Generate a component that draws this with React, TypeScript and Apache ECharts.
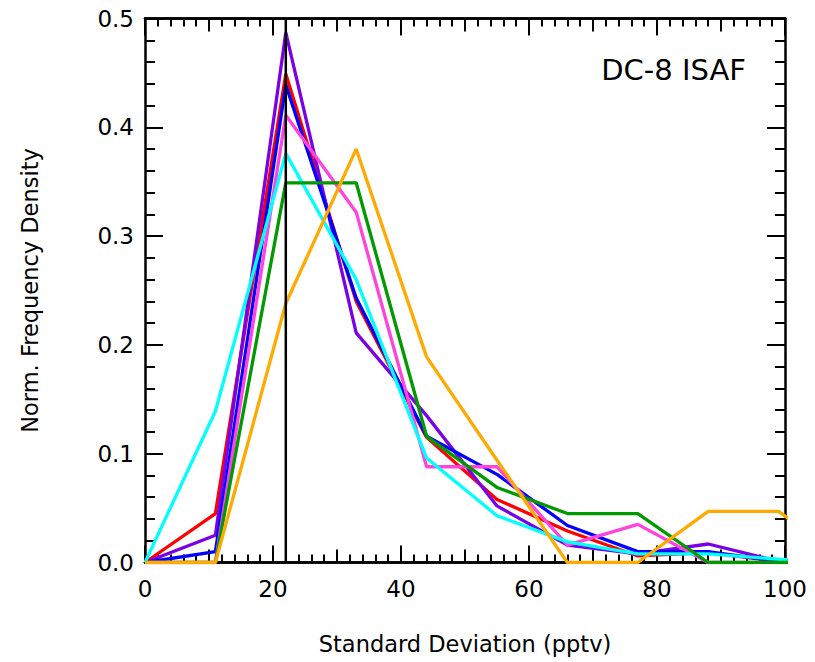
import React, { useEffect, useRef } from "react";
import * as echarts from "echarts";

const xBins = [0, 11, 22, 33, 44, 55, 66, 77, 88, 99, 110];
const redVals = [0, 0.045, 0.449, 0.240, 0.115, 0.058, 0.029, 0.006, 0.009, 0.001, 0];
const purpleVals = [0, 0.025, 0.487, 0.211, 0.135, 0.052, 0.016, 0.008, 0.017, 0.001, 0];
const blueVals = [0, 0.010, 0.439, 0.243, 0.116, 0.081, 0.034, 0.010, 0.010, 0.001, 0];
const pinkVals = [0, 0, 0.411, 0.322, 0.088, 0.088, 0.016, 0.035, 0, 0, 0];
const cyanVals = [0, 0.139, 0.376, 0.260, 0.096, 0.043, 0.019, 0.008, 0.008, 0.003, 0];
const greenVals = [0, 0, 0.349, 0.349, 0.116, 0.069, 0.045, 0.045, 0, 0, 0];
const orangeVals = [0, 0, 0.238, 0.380, 0.189, 0.094, 0, 0, 0.047, 0.047, 0];
const refLineX = 22;
const yTicks = ["0.0", "0.1", "0.2", "0.3", "0.4", "0.5"];

const FONT = "DejaVu Sans";

export default function App() {
  const ref = useRef<HTMLDivElement>(null);
  useEffect(() => {
    document.body.style.margin = "0";
    const chart = echarts.init(ref.current!, null, { renderer: "svg" });
    const pts = (vals: number[]) => xBins.map((x, i) => [x, vals[i]]);
    const mk = (name: string, color: string, vals: number[]) => ({
      name,
      type: "line",
      data: pts(vals),
      symbol: "none",
      clip: true,
      lineStyle: { color, width: 3.3 },
      xAxisIndex: 0,
      yAxisIndex: 0,
      z: 3,
    });
    const baseX = (pos: string, interval: number, len: number, minor: boolean, labels: boolean) => ({
      type: "value",
      position: pos,
      min: 0,
      max: 100,
      interval,
      axisLine: { show: true, onZero: false, lineStyle: { color: "#000", width: 2.5 } },
      axisTick: { show: true, inside: true, length: len, lineStyle: { color: "#000", width: 2 } },
      minorTick: { show: minor, splitNumber: 10, length: 8, lineStyle: { color: "#000", width: 2 } },
      splitLine: { show: false },
      axisLabel: { show: labels, fontSize: 23, color: "#000", fontFamily: FONT, margin: 15 },
    });
    const baseY = (pos: string, labels: boolean) => ({
      type: "value",
      position: pos,
      min: 0,
      max: 0.5,
      interval: 0.1,
      axisLine: { show: true, onZero: false, lineStyle: { color: "#000", width: 2.5 } },
      axisTick: { show: true, inside: true, length: 18, lineStyle: { color: "#000", width: 2 } },
      minorTick: { show: true, splitNumber: 5, length: 10, lineStyle: { color: "#000", width: 2 } },
      splitLine: { show: false },
      axisLabel: {
        show: labels,
        fontSize: 23,
        color: "#000",
        fontFamily: FONT,
        margin: 11,
        formatter: (v: number) => yTicks[Math.round(v * 10)],
      },
    });
    chart.setOption({
      animation: false,
      backgroundColor: "#fff",
      grid: { left: 145, top: 18.5, width: 640, height: 544 },
      xAxis: [
        {
          ...baseX("bottom", 20, 17, true, true),
          name: "Standard Deviation (pptv)",
          nameLocation: "middle",
          nameGap: 70,
          nameTextStyle: { fontSize: 22.5, color: "#000", fontFamily: FONT },
        },
        baseX("bottom", 10, 13, false, false),
        baseX("top", 20, 17, true, false),
        baseX("top", 10, 13, false, false),
      ],
      yAxis: [
        {
          ...baseY("left", true),
          name: "Norm. Frequency Density",
          nameLocation: "middle",
          nameGap: 104,
          nameRotate: 90,
          nameTextStyle: { fontSize: 22.5, color: "#000", fontFamily: FONT },
        },
        baseY("right", false),
      ],
      graphic: [
        {
          type: "text",
          right: 69,
          top: 55,
          style: { text: "DC-8 ISAF", fontSize: 29, fill: "#000", fontFamily: FONT },
        },
      ],
      series: [
        mk("red", "#ff0000", redVals),
        mk("purple", "#7a00e6", purpleVals),
        mk("blue", "#0000ff", blueVals),
        mk("pink", "#ff44dd", pinkVals),
        mk("cyan", "#00ffff", cyanVals),
        mk("green", "#009900", greenVals),
        mk("orange", "#ffaa00", orangeVals),
        {
          name: "ref",
          type: "line",
          data: [
            [refLineX, 0],
            [refLineX, 0.5],
          ],
          symbol: "none",
          lineStyle: { color: "#000", width: 2.5 },
          z: 4,
        },
      ],
    });
    return () => chart.dispose();
  }, []);
  return <div ref={ref} style={{ width: 815, height: 662 }} />;
}
